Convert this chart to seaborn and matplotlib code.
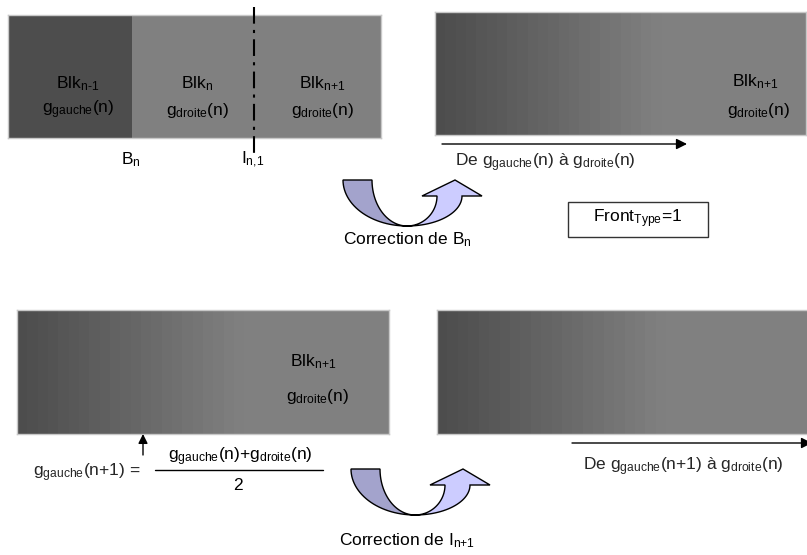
import numpy as np
import matplotlib
matplotlib.use("Agg")
import matplotlib.pyplot as plt
import seaborn as sns
from matplotlib.patches import Rectangle, Polygon

sns.set_theme(style="white")
plt.rcParams["font.family"] = ["Liberation Sans", "DejaVu Sans"]
plt.rcParams["mathtext.fontset"] = "custom"
plt.rcParams["mathtext.rm"] = "Liberation Sans"
plt.rcParams["mathtext.it"] = "Liberation Sans"

# grey levels (0..255) read from the shaded blocks, left to right
ramp_levels = [77, 79, 81, 83, 86, 88, 90, 93, 95, 98, 100, 102, 105, 107, 110,
               112, 115, 117, 120, 122, 125, 127, 128, 128, 128, 128, 128, 128,
               128, 128, 128, 128, 128, 128, 128, 128]
dark_level = 77
light_level = 128

# top-left block: three zones
zone_labels = [r"$\mathregular{Blk_{\text{n-1}}}$", r"$\mathregular{Blk_{n}}$",
               r"$\mathregular{Blk_{\text{n+1}}}$"]
zone_grads = [r"$\mathregular{g_{gauche}}$(n)", r"$\mathregular{g_{droite}}$(n)",
              r"$\mathregular{g_{droite}}$(n)"]

W, H = 807, 555
fig = plt.figure(figsize=(W / 100, H / 100), dpi=100)
fig.patch.set_facecolor("white")


def block_axes(x0, y0, x1, y1, levels):
    bax = fig.add_axes([x0 / W, 1 - y1 / H, (x1 - x0) / W, (y1 - y0) / H])
    row = np.array([levels]) / 255.0
    sns.heatmap(row, ax=bax, cmap="gray", vmin=0, vmax=1, cbar=False,
                xticklabels=False, yticklabels=False)
    for s in bax.spines.values():
        s.set_visible(True)
        s.set_color("#c8c8c8")
        s.set_linewidth(1)
    return bax


# top-left: dark zone then light zone
block_axes(8, 15, 381, 138, [dark_level] * 10 + [light_level] * 20)
# gradient blocks
block_axes(435, 12, 806, 135, ramp_levels)
block_axes(17, 310, 389, 434, ramp_levels)
block_axes(437, 310, 812, 434, ramp_levels)

ax = fig.add_axes([0, 0, 1, 1])
ax.set_xlim(0, W)
ax.set_ylim(H, 0)
ax.axis("off")
ax.patch.set_alpha(0)

fs = 12.5
txt = dict(ha="center", va="center", fontsize=fs, color="black")
arr = dict(arrowstyle="-|>", color="black", lw=1, mutation_scale=16,
           shrinkA=0, shrinkB=0)

for x, lab, g in zip([78, 197, 322], zone_labels, zone_grads):
    ax.text(x, 84, lab, **txt)
    ax.text(x, 110, g, **txt)

# dash-dot boundary
ax.plot([254, 254], [7, 157], color="black", lw=1.5, ls=(0, (8, 3, 1.5, 3)))
ax.text(131, 160, r"$\mathregular{B_{n}}$", **txt)
ax.text(253, 160, r"$\mathregular{I_{\text{n,1}}}$", **txt)

# top-right block text
ax.text(755, 82, r"$\mathregular{Blk_{\text{n+1}}}$", **txt)
ax.text(758, 111, r"$\mathregular{g_{droite}}$(n)", **txt)
ax.annotate("", xy=(687, 144), xytext=(442, 144), arrowprops=arr)
ax.text(455, 163, r"De $\mathregular{g_{gauche}}$(n) à $\mathregular{g_{droite}}$(n)",
        ha="left", va="center", fontsize=fs)

# Front type box
ax.add_patch(Rectangle((568, 202), 140, 35, fill=False, ec="#333333", lw=1))
ax.text(638, 219, r"$\mathregular{Front_{Type}}$=1", **txt)


def u_arrow(cx, ytop, ybot):
    t = np.linspace(np.pi, 1.5 * np.pi, 30)
    # left (dark) band
    outer = np.c_[cx + 64 * np.cos(t), ytop - (ybot - ytop) * np.sin(t)]
    inner = np.c_[cx + 35 * np.cos(t), ytop - (ybot - ytop) * np.sin(t)]
    left = np.vstack([outer, inner[::-1]])
    ax.add_patch(Polygon(left, closed=True, fc="#a3a3cc", ec="black", lw=1))
    # right (light) band with head
    hb = ytop + 16
    t2 = np.linspace(1.5 * np.pi, 2 * np.pi, 30)
    out2 = np.c_[cx + 55 * np.cos(t2), hb - (ybot - hb) * np.sin(t2)]
    in2 = np.c_[cx + 30 * np.cos(t2), hb - (ybot - hb) * np.sin(t2)]
    head = np.array([[cx + 75, hb], [cx + 48, ytop], [cx + 15, hb]])
    right = np.vstack([out2, head, in2[::-1]])
    ax.add_patch(Polygon(right, closed=True, fc="#ccccff", ec="black", lw=1))


u_arrow(407, 180, 226)
ax.text(407, 240, r"Correction de $\mathregular{B_{n}}$", **txt)

# bottom-left block text
ax.text(313, 362, r"$\mathregular{Blk_{\text{n+1}}}$", **txt)
ax.text(317, 397, r"$\mathregular{g_{droite}}$(n)", **txt)
ax.annotate("", xy=(143, 434), xytext=(143, 455),
            arrowprops=dict(arr, mutation_scale=14))
ax.text(33, 473, r"$\mathregular{g_{gauche}}$(n+1) =", ha="left", va="center", fontsize=fs)
ax.text(240, 457, r"$\mathregular{g_{gauche}}$(n)+$\mathregular{g_{droite}}$(n)", **txt)
ax.plot([155, 323], [470, 470], color="black", lw=1)
ax.text(238, 486, "2", **txt)

# bottom-right
ax.annotate("", xy=(812, 443), xytext=(572, 443), arrowprops=arr,
            annotation_clip=False)
ax.text(583, 467, r"De $\mathregular{g_{gauche}}$(n+1) à $\mathregular{g_{droite}}$(n)",
        ha="left", va="center", fontsize=fs)

u_arrow(415, 469, 515)
ax.text(407, 541, r"Correction de $\mathregular{I_{\text{n+1}}}$", **txt)

fig.savefig("out.png", dpi=100)
